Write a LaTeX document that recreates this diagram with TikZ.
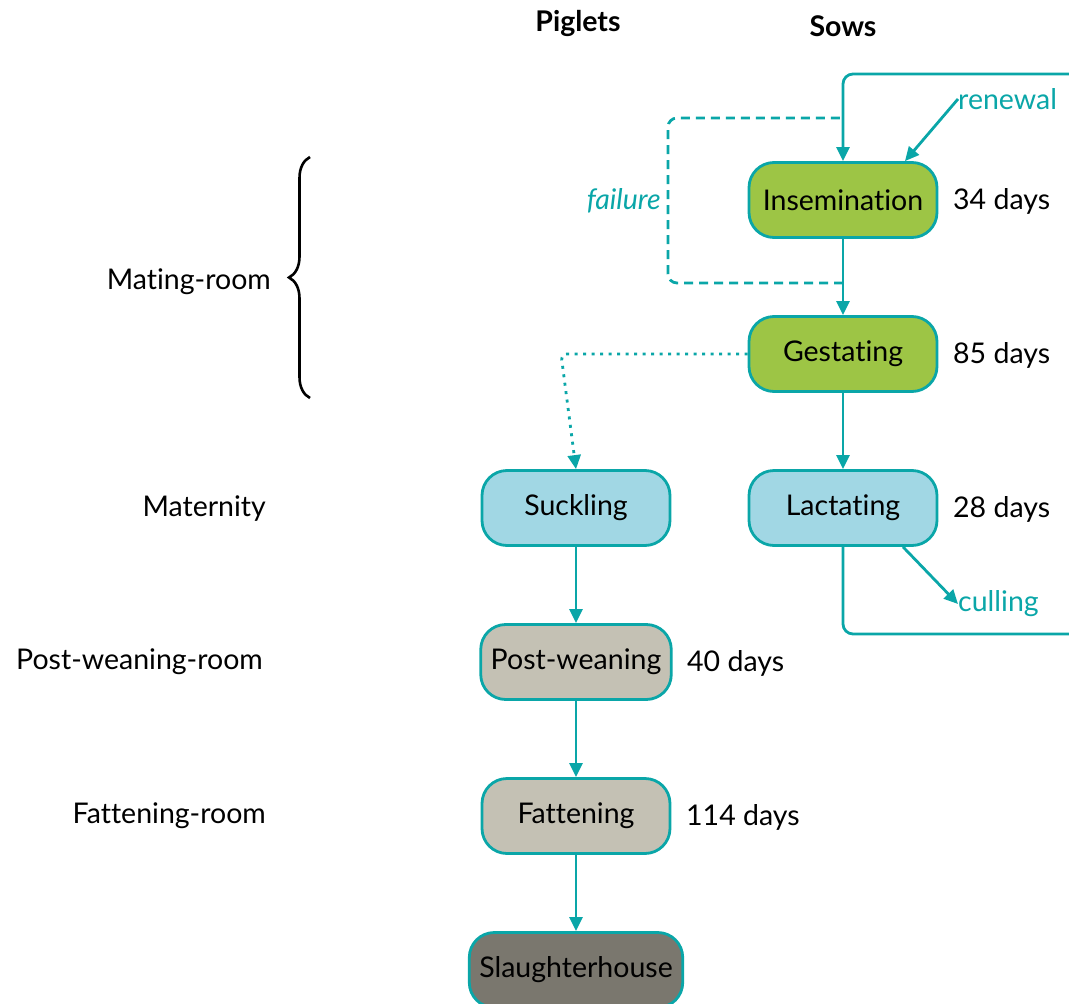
\documentclass[tikz,border=0pt]{standalone}
\usepackage{fontspec}
\setmainfont[Ligatures={NoCommon}]{Lato}
\usetikzlibrary{arrows.meta,decorations.pathreplacing,calc}
\definecolor{tealc}{HTML}{0AA6A8}
\definecolor{greenc}{HTML}{9DC545}
\definecolor{bluec}{HTML}{A1D7E4}
\definecolor{beigec}{HTML}{C4C1B4}
\definecolor{darkc}{HTML}{7A776E}
\begin{document}
\begin{tikzpicture}[x=1pt,y=-1pt,
  font=\fontsize{28.5}{32}\selectfont,
  box/.style={draw=tealc, line width=2.8pt, rounded corners=25pt, minimum width=188pt, minimum height=75pt, inner xsep=10pt, inner ysep=4pt},
  conn/.style={draw=tealc, line width=2.8pt, -{Triangle[length=14pt,width=13pt]}},
  tealtext/.style={text=tealc, inner sep=0pt},
  plain/.style={inner sep=0pt},
  hdr/.style={font=\fontsize{28.5}{32}\selectfont\bfseries, inner sep=0pt}]
\useasboundingbox (0,0) rectangle (1069,1004);

% headers
\node[hdr] (hp) at (578,23) {Piglets};
\node[hdr] (hs) at (843,26) {Sows};

% boxes
\node[box, fill=greenc] (ins) at (843,200) {Insemination};
\node[box, fill=greenc] (ges) at (843,354) {Gestating};
\node[box, fill=bluec] (lac) at (843,508) {Lactating};
\node[box, fill=bluec] (suc) at (576,508) {Suckling};
\node[box, fill=beigec] (pw) at (576,662) {Post-weaning};
\node[box, fill=beigec] (fat) at (576,816) {Fattening};
\node[box, fill=darkc] (sla) at (576,970) {Slaughterhouse};

% days
\node[plain, anchor=west] (d1) at (953,201) {34 days};
\node[plain, anchor=west] (d2) at (953,355) {85 days};
\node[plain, anchor=west] (d3) at (953,509) {28 days};
\node[plain, anchor=west] (d4) at (687,663) {40 days};
\node[plain, anchor=west] (d5) at (686,817) {114 days};

% room labels
\node[plain, anchor=east] (l1) at (271,282) {Mating-room};
\node[plain, anchor=east] (l2) at (266,509) {Maternity};
\node[plain, anchor=east] (l3) at (263,662) {Post-weaning-room};
\node[plain, anchor=east] (l4) at (266,816) {Fattening-room};

% brace
\coordinate (b1) at (310,398);
\coordinate (b2) at (310,157);
\draw[line width=2.6pt, decorate, decoration={brace, amplitude=21pt, aspect=0.5}] (b1) -- (b2);

% flow
\draw[conn] (ins) -- (ges);
\draw[conn] (ges) -- (lac);
\draw[conn] (suc) -- (pw);
\draw[conn] (pw) -- (fat);
\draw[conn] (fat) -- (sla);

% failure loop
\coordinate (f1) at (843,283);
\coordinate (f2) at (668,283);
\coordinate (f3) at (668,118);
\coordinate (f4) at (843,118);
\draw[tealc, line width=2.8pt, dash pattern=on 9pt off 6pt, rounded corners=9pt] (f1) -- (f2) -- (f3) -- (f4);
\node[tealtext, anchor=east, font=\fontsize{28.5}{32}\selectfont\itshape] (fail) at (661,201) {failure};

% dotted gestating -> suckling
\coordinate (g1) at (561,354);
\draw[tealc, line width=2.8pt, dash pattern=on 3pt off 5.5pt, rounded corners=6pt, -{Triangle[length=14pt,width=13pt]}] (ges.west) -- (g1) -- (suc.north);

% renewal / culling loop
\coordinate (r1) at (1085,634);
\coordinate (r2) at (1085,74);
\draw[conn, rounded corners=10pt] (lac.south) |- (r1) -- (r2) -| (ins.north);

\node[tealtext, anchor=west] (ren) at (958,99) {renewal};
\draw[conn] (ren.west) -- ($(ins.north)+(62,0)$);

\node[tealtext, anchor=west] (cul) at (958,604) {culling};
\draw[conn] ($(lac.south)+(60,0)$) -- (cul.west);
\end{tikzpicture}
\end{document}
